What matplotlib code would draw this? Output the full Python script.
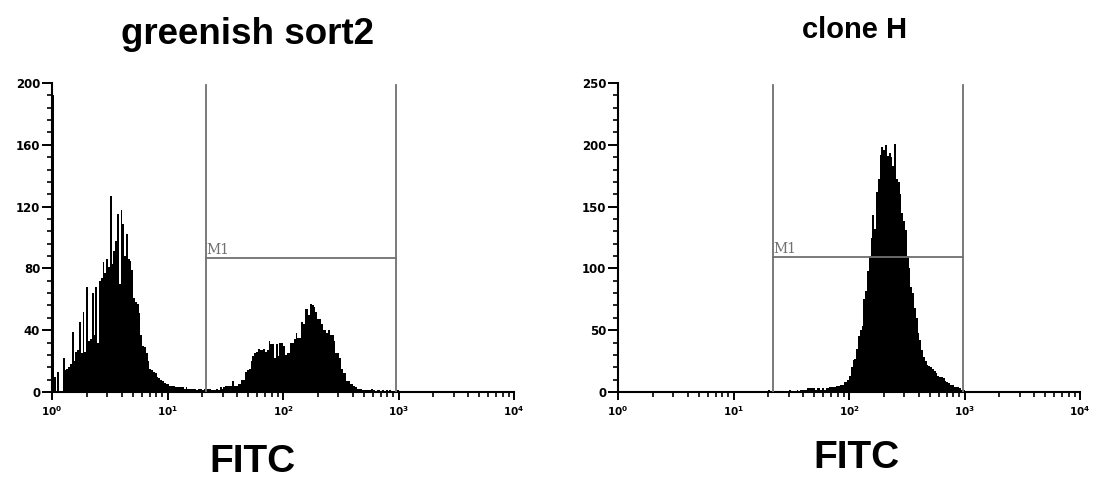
import numpy as np
import matplotlib
matplotlib.use("Agg")
import matplotlib.pyplot as plt
from matplotlib.ticker import FixedLocator, FixedFormatter, MultipleLocator, NullFormatter

# ---- data: 256 log channels spanning 10^0 .. 10^4 ----
titles = ["greenish sort2", "clone H"]
xlabel = "FITC"
gate_label = "M1"

left_counts = [
    192, 10, 0, 13, 0, 0, 22, 14, 15, 16,
    18, 39, 20, 26, 27, 45, 25, 52, 26, 68,
    33, 34, 64, 37, 68, 32, 72, 74, 84, 77,
    86, 81, 127, 83, 91, 98, 115, 70, 118, 109,
    88, 102, 86, 85, 79, 61, 58, 57, 51, 37,
    30, 29, 25, 20, 15, 14, 13, 12, 10, 9,
    8, 7, 6, 5, 5, 4, 4, 4, 3, 3,
    3, 3, 3, 2, 3, 2, 2, 2, 2, 2,
    1, 2, 2, 1, 2, 1, 2, 2, 1, 1,
    1, 2, 1, 3, 2, 3, 4, 4, 4, 4,
    7, 4, 4, 5, 5, 8, 8, 13, 14, 15,
    20, 23, 25, 26, 28, 27, 27, 28, 26, 27,
    33, 31, 31, 22, 31, 23, 32, 32, 30, 24,
    25, 25, 32, 32, 34, 38, 35, 35, 45, 44,
    54, 54, 50, 57, 56, 55, 52, 47, 47, 44,
    40, 40, 38, 40, 37, 37, 33, 25, 25, 22,
    15, 12, 12, 7, 7, 5, 5, 4, 3, 2,
    2, 2, 1, 1, 1, 1, 1, 2, 1, 0,
    1, 1, 0, 1, 0, 1, 0, 1, 0, 0,
    0, 1, 0, 0, 0, 0, 0, 0, 0, 0,
] + [0] * 56

right_counts = [0] * 30 + [
    0, 1, 0, 0, 0, 0, 0, 0, 0, 0,
    0, 0, 0, 0, 0, 0, 0, 1, 0, 0,
    0, 0, 0, 0, 0, 1, 0, 1, 1, 0,
    1, 1, 0, 1, 1, 1, 0, 1, 1, 1,
    1, 1, 0, 1, 1, 1, 1, 1, 1, 1,
    1, 1, 1, 2, 1, 1, 1, 1, 1, 1,
    1, 1, 1, 1, 1, 2, 1, 1, 1, 2,
    1, 2, 2, 2, 2, 3, 3, 3, 3, 2,
    3, 3, 2, 3, 2, 3, 3, 4, 4, 4,
    4, 5, 5, 6, 6, 8, 8, 10, 13, 20,
    26, 27, 35, 45, 50, 53, 75, 82, 98, 110,
    125, 143, 132, 162, 172, 192, 198, 196, 200, 191,
    193, 190, 183, 201, 172, 170, 160, 145, 138, 131,
    110, 100, 85, 80, 68, 60, 48, 42, 34, 28,
    25, 22, 21, 20, 19, 17, 15, 13, 12, 12,
    11, 9, 8, 7, 6, 6, 4, 4, 4, 3,
    2, 2, 1, 1, 1, 0, 1, 0, 1, 1,
    0, 0, 1, 0, 0, 0, 0, 1, 0, 0,
]
right_counts = right_counts + [0] * (256 - len(right_counts))

y_max = [200, 250]
y_major = [40, 50]
y_minor = [8, 10]
gate_lo = [21.5, 22.0]
gate_hi = [951.0, 961.0]
gate_level = [87, 109]
decades = [0, 1, 2, 3, 4]

# ---- figure ----
W, H = 1097, 491
fig = plt.figure(figsize=(W / 100, H / 100), dpi=100)
bold_font = "DejaVu Sans"
title_font = "Liberation Sans"

axes_px = [(52, 83, 462, 309), (618, 83, 462, 309)]
title_pos = [(248, 35), (855, 30)]
xlabel_pos = [(252, 462), (856, 458)]
counts_all = [left_counts, right_counts]
edges = 10 ** (np.arange(257) / 64.0)
gate_grey = "#707070"

for i, (lx, ty, w, h) in enumerate(axes_px):
    ax = fig.add_axes([lx / W, (H - ty - h) / H, w / W, h / H])
    ax.stairs(counts_all[i], edges, fill=True, color="black", linewidth=0)
    ax.set_xscale("log")
    ax.set_xlim(1, 1e4)
    ax.set_ylim(0, y_max[i])
    for s in ["top", "right"]:
        ax.spines[s].set_visible(False)
    for s in ["left", "bottom"]:
        ax.spines[s].set_linewidth(1.5)
        ax.spines[s].set_color("black")
    # y ticks
    ax.yaxis.set_major_locator(MultipleLocator(y_major[i]))
    ax.yaxis.set_minor_locator(MultipleLocator(y_minor[i]))
    ax.tick_params(axis="y", which="major", length=7, width=1.4, pad=1.5,
                   labelsize=8.5, direction="out")
    ax.tick_params(axis="y", which="minor", length=3.5, width=1.2, direction="out")
    # x ticks
    majors = [10.0 ** d for d in decades]
    minors = [m * 10.0 ** d for d in decades[:-1] for m in range(2, 10)]
    ax.xaxis.set_major_locator(FixedLocator(majors))
    ax.xaxis.set_major_formatter(FixedFormatter([r"$\mathbf{10^{%d}}$" % d for d in decades]))
    ax.xaxis.set_minor_locator(FixedLocator(minors))
    ax.xaxis.set_minor_formatter(NullFormatter())
    ax.tick_params(axis="x", which="major", length=6, width=1.4, pad=3,
                   labelsize=7.5, direction="out")
    ax.tick_params(axis="x", which="minor", length=3.5, width=1.2, direction="out")
    for lab in ax.get_yticklabels():
        lab.set_fontweight("bold")
        lab.set_family(bold_font)
    # gate M1
    top = y_max[i] * 0.993
    ax.plot([gate_lo[i], gate_lo[i]], [0, top], color=gate_grey, lw=1.3, zorder=3)
    ax.plot([gate_hi[i], gate_hi[i]], [0, top], color=gate_grey, lw=1.3, zorder=3)
    ax.plot([gate_lo[i], gate_hi[i]], [gate_level[i], gate_level[i]], color=gate_grey, lw=1.3, zorder=3)
    ax.text(gate_lo[i] * 1.01, gate_level[i] + y_max[i] * 0.003, gate_label, family="DejaVu Serif",
            fontsize=10, color=gate_grey, ha="left", va="bottom")
    # titles and labels
    tx, tyy = title_pos[i]
    fig.text(tx / W, 1 - tyy / H, titles[i], family=title_font, fontweight="bold",
             fontsize=26.5 if i == 0 else 21, ha="center", va="center")
    xx, xy = xlabel_pos[i]
    fig.text(xx / W, 1 - xy / H, xlabel, family=title_font, fontweight="bold",
             fontsize=28, ha="center", va="center")

fig.savefig("out.png", dpi=100, facecolor="white")
